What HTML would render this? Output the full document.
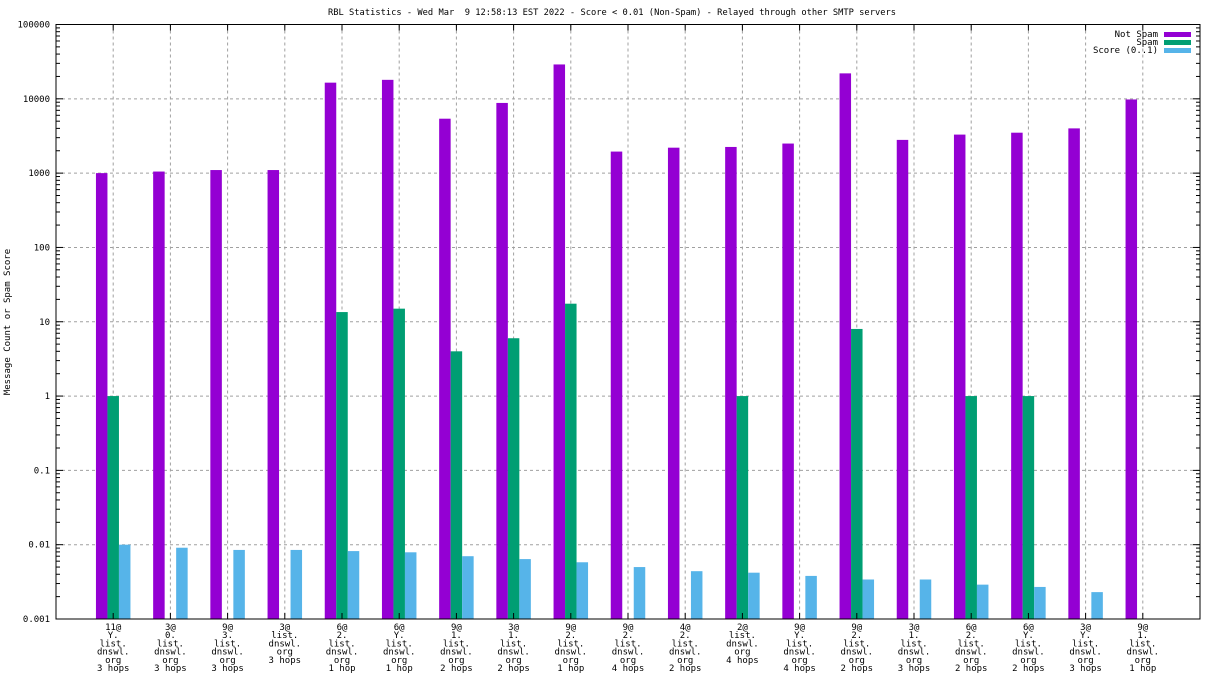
<!DOCTYPE html>
<html><head><meta charset="utf-8"><style>
body{margin:0;background:#fff;}
svg{display:block;font-family:"DejaVu Sans Mono","Liberation Mono",monospace;font-size:9px;}
text{white-space:pre;}
</style></head><body>
<svg id="chart" width="1216" height="684" xmlns="http://www.w3.org/2000/svg">
<text x="612" y="15" text-anchor="middle" textLength="568" lengthAdjust="spacingAndGlyphs">RBL Statistics - Wed Mar  9 12:58:13 EST 2022 - Score &lt; 0.01 (Non-Spam) - Relayed through other SMTP servers</text>
<text transform="translate(10,322) rotate(-90)" text-anchor="middle">Message Count or Spam Score</text>
<g id="grid"></g><g id="bars"></g><g id="axes"></g>
<g>
<text x="1158" y="37" text-anchor="end">Not Spam</text>
<rect x="1164" y="32" width="27" height="5" fill="#9400d3"/>
<text x="1158" y="45" text-anchor="end">Spam</text>
<rect x="1164" y="40" width="27" height="5" fill="#009e73"/>
<text x="1158" y="53" text-anchor="end">Score (0..1)</text>
<rect x="1164" y="48" width="27" height="5" fill="#56b4e9"/>
</g>
</svg>
<script>
const categories=[["11@","Y.","list.","dnswl.","org","3 hops"],["3@","0.","list.","dnswl.","org","3 hops"],["9@","3.","list.","dnswl.","org","3 hops"],["3@","list.","dnswl.","org","3 hops"],["6@","2.","list.","dnswl.","org","1 hop"],["6@","Y.","list.","dnswl.","org","1 hop"],["9@","1.","list.","dnswl.","org","2 hops"],["3@","1.","list.","dnswl.","org","2 hops"],["9@","2.","list.","dnswl.","org","1 hop"],["9@","2.","list.","dnswl.","org","4 hops"],["4@","2.","list.","dnswl.","org","2 hops"],["2@","list.","dnswl.","org","4 hops"],["9@","Y.","list.","dnswl.","org","4 hops"],["9@","2.","list.","dnswl.","org","2 hops"],["3@","1.","list.","dnswl.","org","3 hops"],["6@","2.","list.","dnswl.","org","2 hops"],["6@","Y.","list.","dnswl.","org","2 hops"],["3@","Y.","list.","dnswl.","org","3 hops"],["9@","1.","list.","dnswl.","org","1 hop"]];
const notSpam=[1000,1050,1100,1100,16500,18000,5400,8800,29000,1950,2200,2250,2500,22000,2800,3300,3500,4000,9800];
const spam=[1,null,null,null,13.5,15,4,6,17.5,null,null,1,null,8,null,1,1,null,null];
const score=[0.0100,0.0091,0.0085,0.0085,0.0082,0.0079,0.0070,0.0064,0.0058,0.0050,0.0044,0.0042,0.0038,0.0034,0.0034,0.0029,0.0027,0.0023,null];
const yTicks=[0.001,0.01,0.1,1,10,100,1000,10000,100000];
const yTickLabels=["0.001","0.01","0.1","1","10","100","1000","10000","100000"];
const NS="http://www.w3.org/2000/svg";
const L=56,R=1200,T=24.5,B=619;
const x=i=>L+(R-L)/20*(i+1);
const y=v=>B-(Math.log10(v)+3)/8*(B-T);
function mk(tag,attrs,parent){const e=document.createElementNS(NS,tag);for(const k in attrs)e.setAttribute(k,attrs[k]);parent.appendChild(e);return e;}
const grid=document.getElementById('grid'),bars=document.getElementById('bars'),axes=document.getElementById('axes');
yTicks.forEach((v,k)=>{
  const yy=y(v);
  if(k>0&&k<yTicks.length-1){const g=mk('line',{x1:L,x2:R,y1:yy,y2:yy,stroke:'#a0a0a0','stroke-dasharray':'3,3'},grid);
  
  }
  const t=mk('text',{x:L-6,y:yy+3,'text-anchor':'end'},axes);t.textContent=yTickLabels[k];
  
  
  mk('line',{x1:L,x2:L+7,y1:yy,y2:yy,stroke:'#000'},axes);mk('line',{x1:R,x2:R-7,y1:yy,y2:yy,stroke:'#000'},axes);
  if(k<yTicks.length-1)for(let m=2;m<=9;m++){const my=y(v*m);mk('line',{x1:L,x2:L+4,y1:my,y2:my,stroke:'#000'},axes);mk('line',{x1:R,x2:R-4,y1:my,y2:my,stroke:'#000'},axes);}
});
const bw=11.5;
categories.forEach((c,i)=>{
  const cx=x(i);
  const g=mk('line',{x1:cx,x2:cx,y1:T,y2:B,stroke:'#a0a0a0','stroke-dasharray':'3,3'},grid);
  
  
  mk('line',{x1:cx,x2:cx,y1:T,y2:T+6,stroke:'#000'},axes);mk('line',{x1:cx,x2:cx,y1:B,y2:B-6,stroke:'#000'},axes);
  const series=[[notSpam[i],'#9400d3',-1.5,'bar-not-spam'],[spam[i],'#009e73',-0.5,'bar-spam'],[score[i],'#56b4e9',0.5,'bar-score']];
  series.forEach(([v,col,off,name])=>{
    if(v==null)return;
    const yy=y(v);
    const r=mk('rect',{x:cx+off*bw,y:yy,width:bw,height:B-yy,fill:col},bars);
    
    
  });
  c.forEach((line,j)=>{
    const t=mk('text',{x:cx,y:B+11+j*8.2,'text-anchor':'middle'},axes);t.textContent=line;
    
    
  });
});
const frame=mk('rect',{x:L,y:T,width:R-L,height:B-T,fill:'none',stroke:'#000','stroke-width':1},axes);


</script>
</body></html>
